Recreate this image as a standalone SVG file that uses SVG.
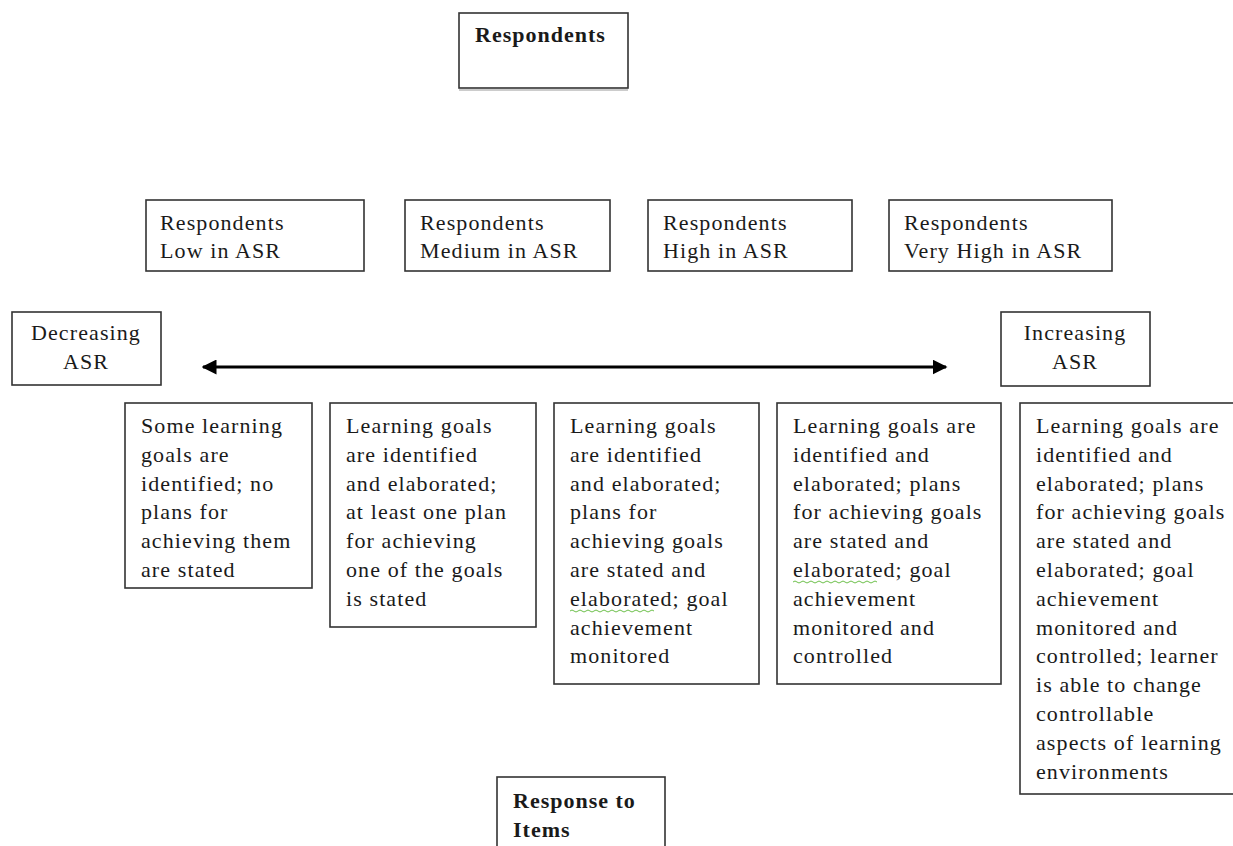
<svg xmlns="http://www.w3.org/2000/svg" width="1233" height="846" viewBox="0 0 1233 846">
  <defs>
    <style>
      .box { fill: #fff; stroke: #333; stroke-width: 1.6; }
      .t { font-family: "Liberation Serif", "Times New Roman", serif; font-size: 22px; letter-spacing: 1.1px; fill: #1a1a1a; }
      .b { font-weight: bold; font-size: 22px; letter-spacing: 1px; }
      .conn { stroke: #000; stroke-width: 3; fill: none; }
      .squig { stroke: #6cbf4a; stroke-width: 1; fill: none; }
    </style>
    <marker id="ah" viewBox="0 0 10 10" refX="9" refY="5" markerWidth="5" markerHeight="5" orient="auto-start-reverse">
      <path d="M0,0 L10,5 L0,10 z" fill="#000"/>
    </marker>
  </defs>

  <g id="respondents">
    <rect class="box" x="459" y="13" width="169" height="75"/>
    <line x1="459" y1="90" x2="628" y2="90" stroke="#999" stroke-width="1"/>
    <text class="t b" x="475" y="42">Respondents</text>
  </g>

  <g id="low">
    <rect class="box" x="146" y="200" width="218" height="71"/>
    <text class="t" x="160" y="230">Respondents</text>
    <text class="t" x="160" y="258">Low in ASR</text>
  </g>
  <g id="medium">
    <rect class="box" x="405" y="200" width="205" height="71"/>
    <text class="t" x="420" y="230">Respondents</text>
    <text class="t" x="420" y="258">Medium in ASR</text>
  </g>
  <g id="high">
    <rect class="box" x="648" y="200" width="204" height="71"/>
    <text class="t" x="663" y="230">Respondents</text>
    <text class="t" x="663" y="258">High in ASR</text>
  </g>
  <g id="veryhigh">
    <rect class="box" x="889" y="200" width="223" height="71"/>
    <text class="t" x="904" y="230">Respondents</text>
    <text class="t" x="904" y="258">Very High in ASR</text>
  </g>

  <g id="decreasing">
    <rect class="box" x="12" y="312" width="149" height="73"/>
    <text class="t" x="86" y="340" text-anchor="middle">Decreasing</text>
    <text class="t" x="86" y="369" text-anchor="middle">ASR</text>
  </g>
  <g id="increasing">
    <rect class="box" x="1001" y="312" width="149" height="74"/>
    <text class="t" x="1075" y="340" text-anchor="middle">Increasing</text>
    <text class="t" x="1075" y="369" text-anchor="middle">ASR</text>
  </g>

  <g id="connectors">
    <line class="conn" x1="203" y1="367" x2="946" y2="367" marker-start="url(#ah)" marker-end="url(#ah)"/>
  </g>

  <g id="level1">
    <rect class="box" x="125" y="403" width="187" height="185"/>
    <text class="t" x="141" y="433">
      <tspan x="141">Some learning</tspan>
      <tspan x="141" dy="28.8">goals are</tspan>
      <tspan x="141" dy="28.8">identified; no</tspan>
      <tspan x="141" dy="28.8">plans for</tspan>
      <tspan x="141" dy="28.8">achieving them</tspan>
      <tspan x="141" dy="28.8">are stated</tspan>
    </text>
  </g>
  <g id="level2">
    <rect class="box" x="330" y="403" width="206" height="224"/>
    <text class="t" x="346" y="433">
      <tspan x="346">Learning goals</tspan>
      <tspan x="346" dy="28.8">are identified</tspan>
      <tspan x="346" dy="28.8">and elaborated;</tspan>
      <tspan x="346" dy="28.8">at least one plan</tspan>
      <tspan x="346" dy="28.8">for achieving</tspan>
      <tspan x="346" dy="28.8">one of the goals</tspan>
      <tspan x="346" dy="28.8">is stated</tspan>
    </text>
  </g>
  <g id="level3">
    <rect class="box" x="554" y="403" width="205" height="281"/>
    <text class="t" x="570" y="433">
      <tspan x="570">Learning goals</tspan>
      <tspan x="570" dy="28.8">are identified</tspan>
      <tspan x="570" dy="28.8">and elaborated;</tspan>
      <tspan x="570" dy="28.8">plans for</tspan>
      <tspan x="570" dy="28.8">achieving goals</tspan>
      <tspan x="570" dy="28.8">are stated and</tspan>
      <tspan x="570" dy="28.8">elaborated; goal</tspan>
      <tspan x="570" dy="28.8">achievement</tspan>
      <tspan x="570" dy="28.8">monitored</tspan>
    </text>
    <path class="squig" d="M570,611 q2,-2 4,0 t4,0 t4,0 t4,0 t4,0 t4,0 t4,0 t4,0 t4,0 t4,0 t4,0 t4,0 t4,0 t4,0 t4,0 t4,0 t4,0 t4,0 t4,0 t4,0 t4,0"/>
  </g>
  <g id="level4">
    <rect class="box" x="777" y="403" width="224" height="281"/>
    <text class="t" x="793" y="433">
      <tspan x="793">Learning goals are</tspan>
      <tspan x="793" dy="28.8">identified and</tspan>
      <tspan x="793" dy="28.8">elaborated; plans</tspan>
      <tspan x="793" dy="28.8">for achieving goals</tspan>
      <tspan x="793" dy="28.8">are stated and</tspan>
      <tspan x="793" dy="28.8">elaborated; goal</tspan>
      <tspan x="793" dy="28.8">achievement</tspan>
      <tspan x="793" dy="28.8">monitored and</tspan>
      <tspan x="793" dy="28.8">controlled</tspan>
    </text>
    <path class="squig" d="M793,582 q2,-2 4,0 t4,0 t4,0 t4,0 t4,0 t4,0 t4,0 t4,0 t4,0 t4,0 t4,0 t4,0 t4,0 t4,0 t4,0 t4,0 t4,0 t4,0 t4,0 t4,0 t4,0"/>
  </g>
  <g id="level5">
    <rect class="box" x="1020" y="403" width="220" height="391"/>
    <text class="t" x="1036" y="433">
      <tspan x="1036">Learning goals are</tspan>
      <tspan x="1036" dy="28.8">identified and</tspan>
      <tspan x="1036" dy="28.8">elaborated; plans</tspan>
      <tspan x="1036" dy="28.8">for achieving goals</tspan>
      <tspan x="1036" dy="28.8">are stated and</tspan>
      <tspan x="1036" dy="28.8">elaborated; goal</tspan>
      <tspan x="1036" dy="28.8">achievement</tspan>
      <tspan x="1036" dy="28.8">monitored and</tspan>
      <tspan x="1036" dy="28.8">controlled; learner</tspan>
      <tspan x="1036" dy="28.8">is able to change</tspan>
      <tspan x="1036" dy="28.8">controllable</tspan>
      <tspan x="1036" dy="28.8">aspects of learning</tspan>
      <tspan x="1036" dy="28.8">environments</tspan>
    </text>
  </g>

  <g id="response">
    <rect class="box" x="497" y="777" width="168" height="80"/>
    <text class="t b" x="513" y="808">Response to</text>
    <text class="t b" x="513" y="837">Items</text>
  </g>
</svg>
